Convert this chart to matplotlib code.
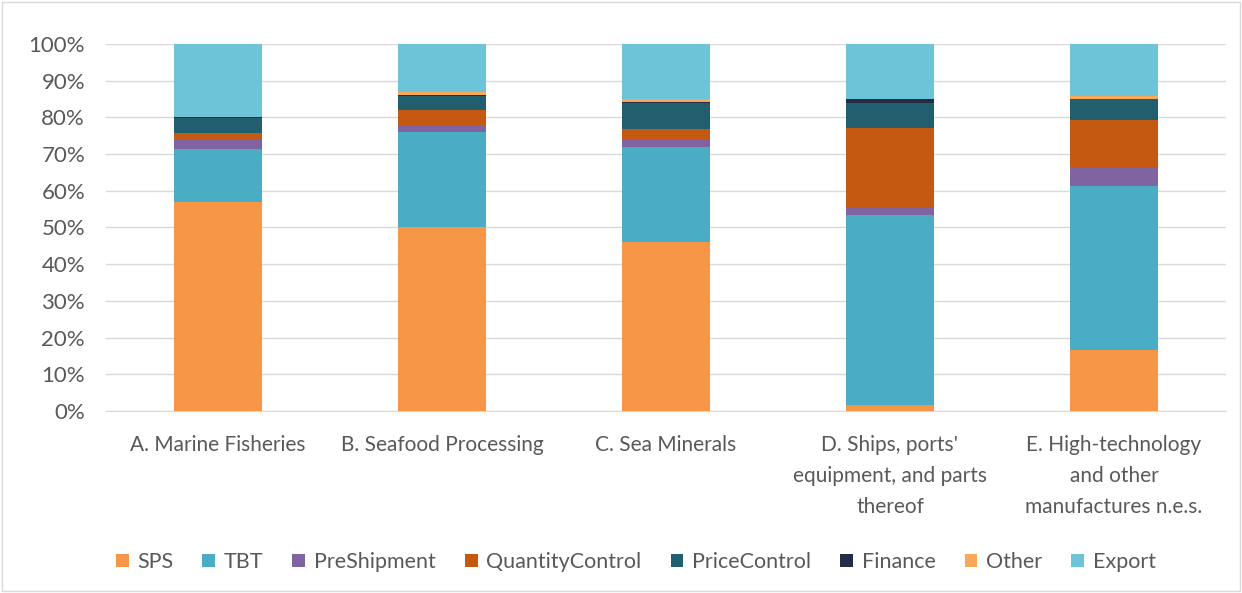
import numpy as np
import matplotlib.pyplot as plt
from matplotlib.patches import Rectangle

plt.rcParams['font.family'] = ['Lato', 'DejaVu Sans']

# Sectores (eje x)
categorias = ["A. Marine Fisheries", "B. Seafood Processing", "C. Sea Minerals",
              "D. Ships, ports'\nequipment, and parts\nthereof",
              "E. High-technology\nand other\nmanufactures n.e.s."]

# Participación (%) de cada tipo de medida
sps = [57.0, 50.0, 46.0, 1.7, 16.6]
tbt = [14.4, 26.0, 26.0, 51.7, 44.7]
preshipment = [2.4, 1.7, 2.1, 2.2, 4.9]
quantity_control = [2.0, 4.3, 2.7, 21.5, 13.1]
price_control = [4.0, 3.8, 7.1, 6.8, 5.7]
finance = [0.2, 0.2, 0.2, 1.1, 0.0]
other = [0.0, 0.9, 0.8, 0.0, 0.8]
export = [20.0, 13.1, 15.1, 15.0, 14.2]

series = [("SPS", sps, "#F79646"),
          ("TBT", tbt, "#4BACC6"),
          ("PreShipment", preshipment, "#8064A2"),
          ("QuantityControl", quantity_control, "#C65911"),
          ("PriceControl", price_control, "#215E6E"),
          ("Finance", finance, "#252C45"),
          ("Other", other, "#F9A857"),
          ("Export", export, "#6DC3D8")]

fig = plt.figure(figsize=(12.42, 5.93), dpi=100)
ax = fig.add_axes([0.0853, 0.307, 0.9018, 0.619])

x = np.arange(len(categorias))
base = np.zeros(len(categorias))
for nombre, valores, color in series:
    ax.bar(x, valores, bottom=base, width=0.39, color=color, label=nombre, zorder=3)
    base += np.array(valores)

ax.set_xlim(-0.5, 4.5)
ax.set_ylim(0, 100)
ax.set_yticks(np.arange(0, 101, 10))
ax.set_yticklabels([f"{v}%" for v in range(0, 101, 10)], fontsize=16)
ax.set_xticks(x)
ax.set_xticklabels(categorias, fontsize=15, linespacing=1.7)
ax.grid(axis='y', color='#D9D9D9', linewidth=1, zorder=0)
for s in ['top', 'right', 'left']:
    ax.spines[s].set_visible(False)
ax.spines['bottom'].set_color('#D9D9D9')
ax.tick_params(axis='both', length=0, colors='#595959')
ax.tick_params(axis='x', pad=17)
ax.tick_params(axis='y', pad=15)

leg = ax.legend(loc='center', bbox_to_anchor=(0.473, -0.412), ncol=8,
                frameon=False, fontsize=15.5, handlelength=0.6, handleheight=0.6,
                handletextpad=0.4, columnspacing=1.35)
for t in leg.get_texts():
    t.set_color('#595959')

fig.patches.append(Rectangle((0.002, 0.003), 0.996, 0.994, transform=fig.transFigure,
                             fill=False, edgecolor='#D9D9D9', linewidth=1))

fig.savefig('out.png', dpi=100)
